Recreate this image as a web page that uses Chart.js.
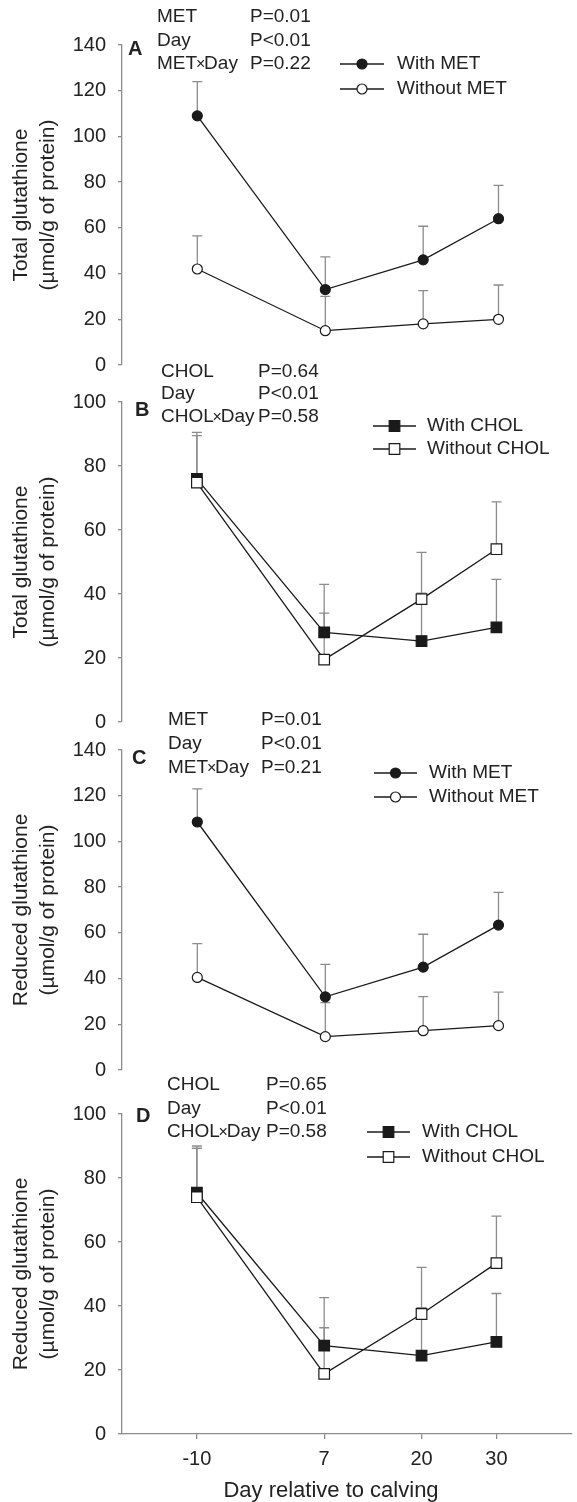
<!DOCTYPE html>
<html><head><meta charset="utf-8">
<script src="https://cdn.jsdelivr.net/npm/chart.js@4/dist/chart.umd.min.js"></script>
<style>
html,body{margin:0;padding:0;background:#fff;overflow:hidden;}
#wrap{position:relative;width:577px;height:1502px;overflow:hidden;background:#fff;}
canvas{position:absolute;left:0;top:0;}
</style></head><body>
<div id="wrap">
<canvas id="cA" width="580" height="1502"></canvas>
<canvas id="cB" width="580" height="1502"></canvas>
<canvas id="cC" width="580" height="1502"></canvas>
<canvas id="cD" width="580" height="1502"></canvas>
</div>
<script>
// ---------- data ----------
const days = [-10, 7, 20, 30];
const xTickLabels = ['-10', '7', '20', '30'];
const yTicks140 = [0, 20, 40, 60, 80, 100, 120, 140];
const yTicks100 = [0, 20, 40, 60, 80, 100];

// A: total glutathione, MET
const totWithMET = [109, 33, 46, 64];
const totWithMETse = [15, 14.3, 14.7, 14.6];
const totWithoutMET = [42, 15, 18, 20];
const totWithoutMETse = [14.5, 15, 14.5, 15];
// B: total glutathione, CHOL
const totWithCHOL = [76, 28, 25.3, 29.6];
const totWithCHOLse = [14.5, 15, 15, 15];
const totWithoutCHOL = [74.8, 19.5, 38.4, 54];
const totWithoutCHOLse = [14.7, 14.5, 14.6, 14.8];
// C: reduced glutathione, MET
const redWithMET = [108.5, 32, 45, 63.4];
const redWithMETse = [14.5, 14.2, 14.4, 14.3];
const redWithoutMET = [40.5, 14.6, 17.2, 19.4];
const redWithoutMETse = [14.8, 14.9, 14.9, 14.7];
// D: reduced glutathione, CHOL
const redWithCHOL = [75.4, 27.6, 24.5, 28.8];
const redWithCHOLse = [14.6, 15, 15, 15.1];
const redWithoutCHOL = [74, 18.8, 37.5, 53.4];
const redWithoutCHOLse = [15.3, 14.4, 14.6, 14.7];

const statsA = [['MET', 'P=0.01'], ['Day', 'P<0.01'], ['MET×Day', 'P=0.22']];
const statsB = [['CHOL', 'P=0.64'], ['Day', 'P<0.01'], ['CHOL×Day', 'P=0.58']];
const statsC = [['MET', 'P=0.01'], ['Day', 'P<0.01'], ['MET×Day', 'P=0.21']];
const statsD = [['CHOL', 'P=0.65'], ['Day', 'P<0.01'], ['CHOL×Day', 'P=0.58']];

const titleTotal = ['Total glutathione', '(µmol/g of protein)'];
const titleReduced = ['Reduced glutathione', '(µmol/g of protein)'];
const xTitle = 'Day relative to calving';

// ---------- styling ----------
const FONT = "'Liberation Sans', Arial, sans-serif";
const TXT = '#222';
const AX = '#8c8c8c';
const LINE = '#1a1a1a';
const H = 1502;

function drawMarker(ctx, style, filled, x, y) {
  ctx.save();
  ctx.lineWidth = 1.2;
  ctx.strokeStyle = LINE;
  ctx.fillStyle = filled ? LINE : '#fff';
  ctx.beginPath();
  if (style === 'circle') {
    ctx.arc(x, y, 5, 0, Math.PI * 2);
  } else {
    ctx.rect(x - 5.3, y - 5.3, 10.6, 10.6);
  }
  ctx.fill(); ctx.stroke();
  ctx.restore();
}

// draws a label, rendering the "×" sign narrower as in the original figure
function drawLabel(ctx, text, x, y) {
  const parts = text.split('×');
  let cx = x;
  parts.forEach((part, i) => {
    if (i > 0) {
      ctx.save();
      ctx.font = '16px ' + FONT;
      ctx.textAlign = 'center';
      ctx.fillText('×', cx + 3.5, y + 1);
      ctx.restore();
      cx += 7;
    }
    ctx.fillText(part, cx, y);
    cx += ctx.measureText(part).width;
  });
}

const deco = {
  id: 'deco',
  beforeDatasetsDraw(chart) {
    const { ctx, scales: { x, y } } = chart;
    ctx.save();
    ctx.strokeStyle = AX; ctx.lineWidth = 1.3;
    chart.data.datasets.forEach(ds => {
      ds.data.forEach((p, i) => {
        const px = x.getPixelForValue(p.x);
        const y0 = y.getPixelForValue(p.y);
        const y1 = y.getPixelForValue(p.y + ds.se[i]);
        ctx.beginPath();
        ctx.moveTo(px, y0); ctx.lineTo(px, y1);
        ctx.moveTo(px - 5, y1); ctx.lineTo(px + 5, y1);
        ctx.stroke();
      });
    });
    ctx.restore();
  },
  afterDraw(chart, args, o) {
    const ctx = chart.ctx;
    ctx.save();
    ctx.fillStyle = TXT;
    ctx.textBaseline = 'middle';
    ctx.textAlign = 'left';
    ctx.font = 'bold 20px ' + FONT;
    ctx.fillText(o.letter, o.letterX, o.letterY);
    ctx.font = '19px ' + FONT;
    o.stats.forEach((r, i) => {
      drawLabel(ctx, r[0], o.statsX, o.statsY[i]);
      ctx.fillText(r[1], o.pX, o.statsY[i]);
    });
    const L = o.legend;
    chart.data.datasets.slice().sort((a, b) => a.legendRow - b.legendRow).forEach((ds, i) => {
      const yy = L.rows[i];
      ctx.strokeStyle = LINE; ctx.lineWidth = 1.3;
      ctx.beginPath(); ctx.moveTo(L.x1, yy); ctx.lineTo(L.x2, yy); ctx.stroke();
      drawMarker(ctx, ds.markerShape, ds.filled, (L.x1 + L.x2) / 2, yy);
      ctx.fillStyle = TXT;
      ctx.font = '19px ' + FONT;
      ctx.fillText(ds.label, L.tx, yy);
    });
    if (o.xTitle) {
      ctx.font = '22px ' + FONT;
      ctx.textAlign = 'center';
      ctx.textBaseline = 'alphabetic';
      ctx.fillText(o.xTitle, o.xTitleX, o.xTitleY);
    }
    ctx.restore();
  }
};

function mkDataset(label, vals, se, shape, filled, row, order) {
  return {
    label, se, markerShape: shape, filled, legendRow: row, order,
    data: days.map((d, i) => ({ x: d, y: vals[i] })),
    borderColor: LINE, borderWidth: 1.3, tension: 0,
    pointStyle: shape === 'circle' ? 'circle' : 'rect',
    pointRadius: shape === 'circle' ? 5 : 7.5,
    pointBorderWidth: 1.2,
    pointBorderColor: LINE,
    pointBackgroundColor: filled ? LINE : '#fff'
  };
}

function mkChart(id, cfg) {
  const showX = !!cfg.showX;
  return new Chart(document.getElementById(id), {
    type: 'line',
    data: { datasets: cfg.datasets },
    plugins: [deco],
    options: {
      responsive: false, animation: false, devicePixelRatio: 1, events: [],
      layout: { padding: { top: cfg.top, bottom: showX ? 0 : H - cfg.bottom, left: 0, right: 0 } },
      scales: {
        x: {
          type: 'linear', min: -20, max: 40, display: showX,
          afterBuildTicks: s => { s.ticks = days.map(v => ({ value: v })); },
          afterFit: s => { if (showX) s.height = H - cfg.bottom; },
          ticks: {
            callback: (v, i) => xTickLabels[i], autoSkip: false, maxRotation: 0,
            color: TXT, font: { family: FONT, size: 20 }, padding: 8
          },
          grid: { drawOnChartArea: false, drawTicks: true, tickLength: 5, color: AX, lineWidth: 1.3 },
          border: { display: true, color: AX, width: 1.3 },
          title: { display: false }
        },
        y: {
          type: 'linear', min: 0, max: cfg.ymax,
          afterBuildTicks: s => { s.ticks = cfg.yTicks.map(v => ({ value: v })); },
          afterFit: s => { s.width = 122; },
          ticks: { color: TXT, font: { family: FONT, size: 20 }, padding: 12 },
          grid: { drawOnChartArea: false, drawTicks: true, tickLength: 4, color: AX, lineWidth: 1.3 },
          border: { display: true, color: AX, width: 1.3 },
          title: {
            display: true, text: cfg.yTitle, color: TXT,
            font: { family: FONT, size: 21, lineHeight: 1.28 },
            padding: { top: 7.6, bottom: 0 }
          }
        }
      },
      plugins: {
        legend: { display: false }, tooltip: { enabled: false },
        deco: cfg.deco
      }
    }
  });
}

mkChart('cA', {
  top: 45, bottom: 365, ymax: 140, yTicks: yTicks140, yTitle: titleTotal,
  datasets: [
    mkDataset('Without MET', totWithoutMET, totWithoutMETse, 'circle', false, 1, 0),
    mkDataset('With MET', totWithMET, totWithMETse, 'circle', true, 0, 1)
  ],
  deco: { letter: 'A', letterX: 128, letterY: 49, stats: statsA, statsX: 157, pX: 250, statsY: [17, 41, 64],
    legend: { x1: 340, x2: 384, tx: 397, rows: [64, 89] } }
});
mkChart('cB', {
  top: 402, bottom: 722, ymax: 100, yTicks: yTicks100, yTitle: titleTotal,
  datasets: [
    mkDataset('Without CHOL', totWithoutCHOL, totWithoutCHOLse, 'rect', false, 1, 0),
    mkDataset('With CHOL', totWithCHOL, totWithCHOLse, 'rect', true, 0, 1)
  ],
  deco: { letter: 'B', letterX: 135, letterY: 410, stats: statsB, statsX: 161, pX: 258, statsY: [372, 394, 417],
    legend: { x1: 373, x2: 416, tx: 427, rows: [426, 449] } }
});
mkChart('cC', {
  top: 750, bottom: 1070, ymax: 140, yTicks: yTicks140, yTitle: titleReduced,
  datasets: [
    mkDataset('Without MET', redWithoutMET, redWithoutMETse, 'circle', false, 1, 0),
    mkDataset('With MET', redWithMET, redWithMETse, 'circle', true, 0, 1)
  ],
  deco: { letter: 'C', letterX: 132, letterY: 758, stats: statsC, statsX: 168, pX: 261, statsY: [720, 744, 768],
    legend: { x1: 374, x2: 417, tx: 429, rows: [773, 797] } }
});
mkChart('cD', {
  top: 1114, bottom: 1434, ymax: 100, yTicks: yTicks100, yTitle: titleReduced, showX: true,
  datasets: [
    mkDataset('Without CHOL', redWithoutCHOL, redWithoutCHOLse, 'rect', false, 1, 0),
    mkDataset('With CHOL', redWithCHOL, redWithCHOLse, 'rect', true, 0, 1)
  ],
  deco: { letter: 'D', letterX: 136, letterY: 1116, stats: statsD, statsX: 167, pX: 266, statsY: [1085, 1109, 1132],
    legend: { x1: 367, x2: 410, tx: 422, rows: [1132, 1157] },
    xTitle: xTitle, xTitleX: 331, xTitleY: 1497 }
});
</script>
</body></html>
